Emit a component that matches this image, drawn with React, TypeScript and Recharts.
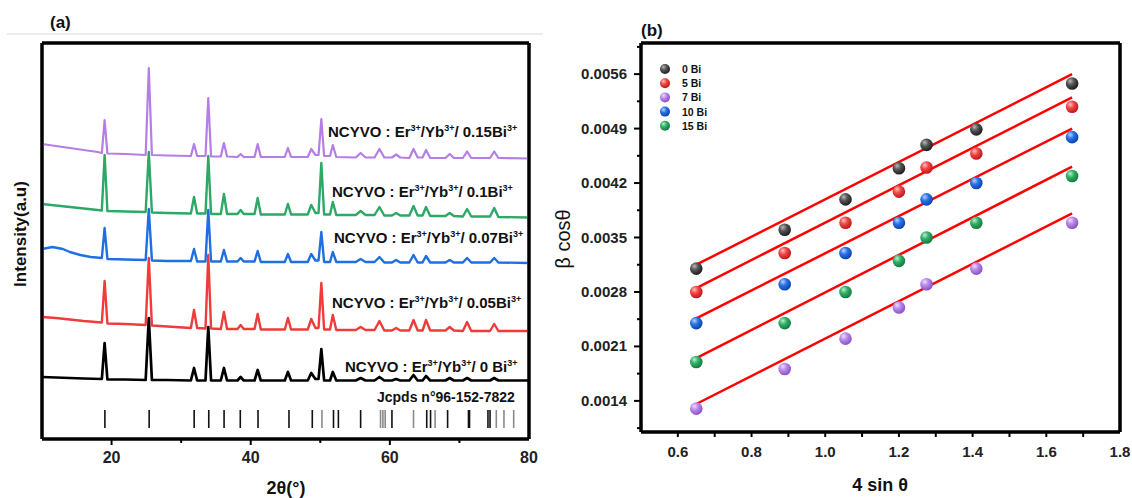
import React from "react";
import {
  ComposedChart,
  Line,
  Scatter,
  XAxis,
  YAxis,
  ReferenceLine,
  CartesianGrid,
  Legend,
} from "recharts";

const FONT = "'Liberation Sans', Arial, sans-serif";
const FRAME = { stroke: "#000", strokeWidth: 3 };

// ---- (a) XRD patterns: [2theta, intensity a.u.] ----
const XRD_TICKS = [10, 20, 30, 40, 50, 60, 70, 80];
const XRD_LABELED = [20, 40, 60, 80];
const XRD_X_DOMAIN = [10, 80];
const XRD_Y_DOMAIN = [0, 396];

const XRD_015BI: [number, number][] = [
  [10, 295], [12, 293], [14, 291], [16, 289], [18, 287], [18.6, 286], [19.0, 319], [19.4, 285.5],
  [22, 285], [24.9, 284], [25.35, 371], [25.8, 284], [28, 283.5], [31.4, 283], [31.85, 295], [32.3, 283],
  [33.5, 283], [33.9, 341], [34.3, 282.5], [35.7, 282.5], [36.15, 296], [36.6, 282.5], [38.1, 282], [38.55, 285],
  [39, 282], [40.55, 282], [41.0, 295], [41.45, 282], [44.9, 282], [45.35, 291], [45.8, 282], [48.2, 282],
  [48.7, 290], [49.3, 284], [49.75, 284], [50.15, 320], [50.55, 283], [51.4, 283], [51.8, 294], [52.3, 282],
  [55.1, 281.5], [55.8, 286], [56.5, 281.5], [57.8, 281.5], [58.5, 290], [59.2, 281.5], [60.3, 281.5], [60.9, 284.5],
  [61.5, 281.5], [62.8, 281], [63.4, 290], [64.0, 281.5], [64.7, 281.5], [65.2, 289], [65.8, 281], [68.0, 281],
  [68.6, 285], [69.2, 281], [70.5, 281], [71.1, 287.5], [71.7, 281], [74.4, 281], [75.0, 287.5], [75.6, 281], [80, 280.5],
];

const XRD_01BI: [number, number][] = [
  [10, 235], [12, 233.5], [14, 232], [16, 230.5], [18, 229], [18.6, 228.5], [19.0, 284], [19.4, 228],
  [22, 227.5], [24.9, 227], [25.35, 287], [25.8, 226.5], [28, 226], [31.4, 225.5], [31.85, 242], [32.3, 225.5],
  [33.5, 225.5], [33.9, 283], [34.3, 225], [35.7, 225], [36.15, 245], [36.6, 225], [38.1, 225], [38.55, 229],
  [39, 225], [40.55, 225], [41.0, 241], [41.45, 224.5], [44.9, 224.5], [45.35, 235], [45.8, 224.5], [48.2, 224.5],
  [48.7, 234], [49.3, 226], [49.75, 226], [50.15, 276], [50.55, 224.5], [51.4, 224.5], [51.8, 237], [52.3, 224],
  [55.1, 224], [55.8, 228], [56.5, 224], [57.8, 224], [58.5, 232], [59.2, 223.5], [60.3, 223.5], [60.9, 226],
  [61.5, 223.5], [62.8, 223.5], [63.4, 233], [64.0, 223.5], [64.7, 223.5], [65.2, 232], [65.8, 223], [68.0, 223],
  [68.6, 226], [69.2, 223], [70.5, 222.5], [71.1, 230], [71.7, 222.5], [74.4, 222.5], [75.0, 231], [75.6, 222], [80, 221.5],
];

const XRD_007BI: [number, number][] = [
  [10, 190], [11.5, 192], [13, 190], [14, 187], [15.5, 184], [17, 182], [18.6, 181], [19.0, 211], [19.4, 180],
  [22, 179.5], [24.9, 179], [25.35, 230], [25.8, 178.5], [28, 178], [31.4, 178], [31.85, 190], [32.3, 177.5],
  [33.5, 177.5], [33.9, 229], [34.3, 177.5], [35.7, 177.5], [36.15, 189], [36.6, 177.5], [38.1, 177.5], [38.55, 181],
  [39, 177.5], [40.55, 177.5], [41.0, 188], [41.45, 177], [44.9, 177], [45.35, 185], [45.8, 177], [48.2, 177],
  [48.7, 185], [49.3, 178.5], [49.75, 178.5], [50.15, 207], [50.55, 177], [51.4, 177], [51.8, 187], [52.3, 177],
  [55.1, 177], [55.8, 180], [56.5, 177], [57.8, 177], [58.5, 182], [59.2, 176.5], [60.3, 176.5], [60.9, 179],
  [61.5, 176.5], [62.8, 176.5], [63.4, 184], [64.0, 176.5], [64.7, 176.5], [65.2, 183], [65.8, 176.5], [68.0, 176.5],
  [68.6, 179], [69.2, 176.5], [70.5, 176.5], [71.1, 181], [71.7, 176.5], [74.4, 176.5], [75.0, 181], [75.6, 176.5], [80, 176],
];

const XRD_005BI: [number, number][] = [
  [10, 122], [12, 121], [14, 119.5], [16, 118], [18.6, 116.5], [19.0, 158], [19.4, 115.5],
  [22, 115], [24.9, 114], [25.35, 181], [25.8, 113.5], [28, 112.5], [31.4, 111], [31.85, 129], [32.3, 111],
  [33.5, 110.5], [33.9, 184], [34.3, 110.5], [35.7, 110], [36.15, 127], [36.6, 110], [38.1, 110], [38.55, 114],
  [39, 110], [40.55, 110], [41.0, 125], [41.45, 109.5], [44.9, 109.5], [45.35, 121], [45.8, 109.5], [48.2, 109.5],
  [48.7, 120], [49.3, 111], [49.75, 111], [50.15, 156], [50.55, 109.5], [51.4, 109.5], [51.8, 124], [52.3, 109],
  [55.1, 109], [55.8, 112], [56.5, 109], [57.8, 109], [58.5, 118], [59.2, 108.5], [60.3, 108.5], [60.9, 111],
  [61.5, 108.5], [62.8, 108.5], [63.4, 119], [64.0, 108.5], [64.7, 108.5], [65.2, 119], [65.8, 108.5], [68.0, 108.5],
  [68.6, 112], [69.2, 108.5], [70.5, 108], [71.1, 117], [71.7, 108], [74.4, 108], [75.0, 115], [75.6, 108], [80, 108],
];

const XRD_0BI: [number, number][] = [
  [10, 62], [12, 61.5], [14, 61], [16, 60.5], [18.6, 60], [19.0, 96], [19.4, 59.5],
  [22, 59.5], [24.9, 59], [25.35, 121], [25.8, 59], [28, 59], [31.4, 58.5], [31.85, 71], [32.3, 58.5],
  [33.5, 58.5], [33.9, 112], [34.3, 58.5], [35.7, 58.5], [36.15, 71], [36.6, 58.5], [38.1, 58.5], [38.55, 62],
  [39, 58.5], [40.55, 58.5], [41.0, 69], [41.45, 58.5], [44.9, 58.5], [45.35, 67], [45.8, 58.5], [48.2, 58.5],
  [48.7, 66], [49.3, 60], [49.75, 60], [50.15, 90], [50.55, 58.5], [51.4, 58.5], [51.8, 67], [52.3, 58.5],
  [55.1, 58.5], [55.8, 61], [56.5, 58.5], [57.8, 58.5], [58.5, 62], [59.2, 58.5], [60.3, 58.5], [60.9, 60],
  [61.5, 58.5], [62.8, 58.5], [63.4, 64], [64.0, 58.5], [64.7, 58.5], [65.2, 63], [65.8, 58.5], [68.0, 58.5],
  [68.6, 61], [69.2, 58.5], [70.5, 58.5], [71.1, 61], [71.7, 58.5], [74.4, 58.5], [75.0, 61], [75.6, 58.5], [80, 58.5],
];

// reference pattern sticks (Jcpds n°96-152-7822)
const JCPDS_DARK = [19.04, 25.4, 31.87, 33.97, 36.17, 38.5, 41.05, 45.5, 48.85, 51.9, 52.6, 55.8, 60.3, 65.3, 65.85, 68.3, 71.3, 71.45, 74.1, 74.4];
const JCPDS_GRAY = [50.24, 58.66, 59.0, 59.33, 63.4, 66.5, 75.3, 76.4, 77.8];
const STICK_BASE = 11;
const STICK_TOP = 29;

const XRD_SERIES = [
  { name: "0.15Bi", data: XRD_015BI, color: "#b47ee5", width: 2.2 },
  { name: "0.1Bi", data: XRD_01BI, color: "#2ea866", width: 2.4 },
  { name: "0.07Bi", data: XRD_007BI, color: "#1f6fe0", width: 2.4 },
  { name: "0.05Bi", data: XRD_005BI, color: "#f03b3b", width: 2.4 },
  { name: "0 Bi", data: XRD_0BI, color: "#000000", width: 2.7 },
];

const XRD_LABELS = [
  { amount: "0.15Bi", x: 328, y: 137 },
  { amount: "0.1Bi", x: 332, y: 197 },
  { amount: "0.07Bi", x: 334, y: 243 },
  { amount: "0.05Bi", x: 332, y: 308 },
  { amount: "0 Bi", x: 345, y: 372 },
];

// ---- (b) Williamson-Hall plot ----
const WH_X = [0.65, 0.89, 1.055, 1.2, 1.275, 1.41, 1.67];
const WH_0BI = [0.0031, 0.0036, 0.00399, 0.00439, 0.00469, 0.00489, 0.00548];
const WH_5BI = [0.0028, 0.0033, 0.00369, 0.00409, 0.0044, 0.00458, 0.00518];
const WH_7BI = [0.0013, 0.00181, 0.0022, 0.0026, 0.0029, 0.0031, 0.00369];
const WH_10BI = [0.0024, 0.0029, 0.0033, 0.00369, 0.00399, 0.0042, 0.00479];
const WH_15BI = [0.0019, 0.0024, 0.0028, 0.0032, 0.0035, 0.00369, 0.00429];

const FIT_X = [0.65, 1.67];
const FIT_0BI = [0.00315, 0.0056];
const FIT_5BI = [0.00285, 0.0053];
const FIT_7BI = [0.00136, 0.00381];
const FIT_10BI = [0.00246, 0.0049];
const FIT_15BI = [0.00195, 0.00441];

const WH_X_DOMAIN = [0.5, 1.8];
const WH_Y_DOMAIN = [0.001, 0.006];
const WH_X_TICKS = [0.5, 0.6, 0.7, 0.8, 0.9, 1.0, 1.1, 1.2, 1.3, 1.4, 1.5, 1.6, 1.7, 1.8];
const WH_X_LABELED = [0.6, 0.8, 1.0, 1.2, 1.4, 1.6, 1.8];
const WH_Y_TICKS = [0.00105, 0.0014, 0.00175, 0.0021, 0.00245, 0.0028, 0.00315, 0.0035, 0.00385, 0.0042, 0.00455, 0.0049, 0.00525, 0.0056, 0.00595];
const WH_Y_LABELED = [0.0014, 0.0021, 0.0028, 0.0035, 0.0042, 0.0049, 0.0056];

const WH_SERIES = [
  { name: "0 Bi", id: "sp0", ys: WH_0BI, fit: FIT_0BI, light: "#b8b8b8", mid: "#555555", dark: "#1e1e1e" },
  { name: "5 Bi", id: "sp5", ys: WH_5BI, fit: FIT_5BI, light: "#ffc0c0", mid: "#f04848", dark: "#c01818" },
  { name: "7 Bi", id: "sp7", ys: WH_7BI, fit: FIT_7BI, light: "#efdcff", mid: "#b98ae6", dark: "#8a52c8" },
  { name: "10 Bi", id: "sp10", ys: WH_10BI, fit: FIT_10BI, light: "#b8d4ff", mid: "#2a72e6", dark: "#0a44b0" },
  { name: "15 Bi", id: "sp15", ys: WH_15BI, fit: FIT_15BI, light: "#b8f0cf", mid: "#34b068", dark: "#137a40" },
];
const LEGEND_ORDER = ["0 Bi", "5 Bi", "7 Bi", "10 Bi", "15 Bi"];

const has = (list: number[], v: number) => list.some((t) => Math.abs(t - v) < 1e-9);

// plot box: grid lines only on the outer edges of the plotting area
function BoxGrid({ box }: { box: { top: number; left: number; width: number; height: number } }) {
  return (
    <CartesianGrid
      stroke="#000"
      strokeWidth={3}
      strokeDasharray="0"
      horizontalCoordinatesGenerator={(p: any) => {
        const o = p?.offset ?? box;
        return [o.top, o.top + o.height];
      }}
      verticalCoordinatesGenerator={(p: any) => {
        const o = p?.offset ?? box;
        return [o.left, o.left + o.width];
      }}
    />
  );
}

// top and right edges again, through the chart scales
function frameEdges(xd: number[], yd: number[]) {
  return [
    <ReferenceLine key="frame-top" segment={[{ x: xd[0], y: yd[1] }, { x: xd[1], y: yd[1] }]} ifOverflow="visible" stroke="#000" strokeWidth={3} />,
    <ReferenceLine key="frame-right" segment={[{ x: xd[1], y: yd[0] }, { x: xd[1], y: yd[1] }]} ifOverflow="visible" stroke="#000" strokeWidth={3} />,
  ];
}

function XrdTick(props: any) {
  const { x, y, payload } = props;
  const v = payload.value;
  const labeled = has(XRD_LABELED, v);
  const edge = v === 10 || v === 80;
  return (
    <g>
      {!edge && (
        <line x1={x} x2={x} y1={y} y2={y + (v % 20 === 0 ? 6 : 4)} stroke="#000" strokeWidth={2} />
      )}
      {labeled && (
        <text x={x} y={y + 24} textAnchor="middle" fontSize={16} fontWeight="bold" fill="#222" fontFamily={FONT}>
          {v}
        </text>
      )}
    </g>
  );
}

function WhXTick(props: any) {
  const { x, y, payload } = props;
  const v = payload.value;
  const labeled = has(WH_X_LABELED, v);
  return (
    <g>
      {v > 0.55 && v < 1.75 && <line x1={x} x2={x} y1={y} y2={y + 5} stroke="#000" strokeWidth={2} />}
      {labeled && (
        <text x={x} y={y + 25} textAnchor="middle" fontSize={15} fontWeight="bold" fill="#222" fontFamily={FONT}>
          {v.toFixed(1)}
        </text>
      )}
    </g>
  );
}

function WhYTick(props: any) {
  const { x, y, payload } = props;
  const v = payload.value;
  const labeled = has(WH_Y_LABELED, v);
  return (
    <g>
      <line x1={x} x2={x - (labeled ? 7 : 4)} y1={y} y2={y} stroke="#000" strokeWidth={2} />
      {labeled && (
        <text x={x - 14} y={y + 5} textAnchor="end" fontSize={15} fontWeight="bold" fill="#222" fontFamily={FONT}>
          {v.toFixed(4)}
        </text>
      )}
    </g>
  );
}

function Sphere({ cx, cy, id, r = 6.3 }: { cx: number; cy: number; id: string; r?: number }) {
  return <circle cx={cx} cy={cy} r={r} fill={`url(#${id})`} />;
}

function WhLegend() {
  return (
    <svg width={70} height={80} style={{ overflow: "visible" }}>
      {LEGEND_ORDER.map((name, i) => {
        const s = WH_SERIES.find((d) => d.name === name)!;
        const cy = 9 + i * 14.2;
        return (
          <g key={name}>
            <Sphere cx={10} cy={cy} id={s.id} r={5} />
            <text x={27} y={cy + 4} fontSize={10.5} fontWeight="bold" fill="#111" fontFamily={FONT}>
              {name}
            </text>
          </g>
        );
      })}
    </svg>
  );
}

function DopantLabel({ x, y, amount }: { x: number; y: number; amount: string }) {
  return (
    <text x={x} y={y} fontSize={15} fontWeight="bold" fill="#111" fontFamily={FONT}>
      NCYVO : Er
      <tspan dy={-6} fontSize={9}>3+</tspan>
      <tspan dy={6}>/Yb</tspan>
      <tspan dy={-6} fontSize={9}>3+</tspan>
      <tspan dy={6}>{"/ " + amount}</tspan>
      <tspan dy={-6} fontSize={9}>3+</tspan>
    </text>
  );
}

export default function App() {
  return (
    <div style={{ position: "fixed", left: 0, top: 0, width: 1132, height: 498, background: "#fff", overflow: "hidden" }}>
      <div style={{ position: "absolute", left: 0, top: 0 }}>
        <ComposedChart width={560} height={498} margin={{ top: 43, right: 31, bottom: 29, left: 41 }}>
          {BoxGrid({ box: { top: 43, left: 42, width: 487, height: 396 } })}
          <XAxis
            dataKey="t"
            type="number"
            domain={XRD_X_DOMAIN}
            ticks={XRD_TICKS}
            interval={0}
            tick={(p: any) => <XrdTick {...p} />}
            tickSize={0}
            tickMargin={0}
            tickLine={false}
            axisLine={FRAME}
            height={30}
            allowDataOverflow
          />
          <YAxis type="number" domain={XRD_Y_DOMAIN} tick={false} tickLine={false} axisLine={FRAME} width={1} allowDataOverflow />
          {JCPDS_DARK.map((t) => (
            <ReferenceLine key={`d${t}`} segment={[{ x: t, y: STICK_BASE }, { x: t, y: STICK_TOP }]} stroke="#111" strokeWidth={1.6} />
          ))}
          {JCPDS_GRAY.map((t) => (
            <ReferenceLine key={`g${t}`} segment={[{ x: t, y: STICK_BASE }, { x: t, y: STICK_TOP }]} stroke="#8a8a8a" strokeWidth={1.6} />
          ))}
          {XRD_SERIES.map((s) => (
            <Line
              key={s.name}
              data={s.data.map(([t, v]) => ({ t, v }))}
              dataKey="v"
              type="linear"
              stroke={s.color}
              strokeWidth={s.width}
              strokeLinejoin="round"
              dot={false}
              activeDot={false}
              isAnimationActive={false}
            />
          ))}
          {frameEdges(XRD_X_DOMAIN, XRD_Y_DOMAIN)}
        </ComposedChart>
      </div>

      <div style={{ position: "absolute", left: 560, top: 0 }}>
        <ComposedChart width={572} height={498} margin={{ top: 43, right: 12, bottom: 36, left: 21 }}>
          <defs>
            {WH_SERIES.map((s) => (
              <radialGradient key={s.id} id={s.id} cx="38%" cy="35%" r="65%" fx="35%" fy="30%">
                <stop offset="0%" stopColor={s.light} />
                <stop offset="45%" stopColor={s.mid} />
                <stop offset="100%" stopColor={s.dark} />
              </radialGradient>
            ))}
          </defs>
          {BoxGrid({ box: { top: 43, left: 81, width: 479, height: 389 } })}
          <XAxis
            dataKey="x"
            type="number"
            domain={WH_X_DOMAIN}
            ticks={WH_X_TICKS}
            interval={0}
            tick={(p: any) => <WhXTick {...p} />}
            tickSize={0}
            tickMargin={0}
            tickLine={false}
            axisLine={FRAME}
            height={30}
            allowDataOverflow
          />
          <YAxis
            dataKey="y"
            type="number"
            domain={WH_Y_DOMAIN}
            ticks={WH_Y_TICKS}
            interval={0}
            tick={(p: any) => <WhYTick {...p} />}
            tickSize={0}
            tickMargin={0}
            tickLine={false}
            axisLine={FRAME}
            width={60}
            allowDataOverflow
          />
          {WH_SERIES.map((s) => (
            <Scatter
              key={s.id}
              name={s.name}
              data={WH_X.map((x, i) => ({ x, y: s.ys[i] }))}
              dataKey="y"
              shape={(p: any) => <Sphere cx={p.cx} cy={p.cy} id={s.id} />}
              isAnimationActive={false}
            />
          ))}
          {WH_SERIES.map((s) => (
            <Line
              key={`fit-${s.id}`}
              data={FIT_X.map((x, i) => ({ x, y: s.fit[i] }))}
              dataKey="y"
              type="linear"
              stroke="#ff0000"
              strokeWidth={2.5}
              dot={false}
              activeDot={false}
              legendType="none"
              isAnimationActive={false}
            />
          ))}
          {frameEdges(WH_X_DOMAIN, WH_Y_DOMAIN)}
          <Legend
            layout="vertical"
            align="center"
            verticalAlign="middle"
            content={() => <WhLegend />}
            wrapperStyle={{ left: 95, top: 60, width: 70, height: 80 }}
          />
        </ComposedChart>
      </div>

      <svg
        width={1132}
        height={498}
        style={{ position: "absolute", left: 0, top: 0, pointerEvents: "none" }}
      >
        <line x1={7} x2={543} y1={34} y2={34} stroke="#e6e6e6" strokeWidth={1.5} />
        <text x={50} y={28} fontSize={17} fontWeight="bold" fill="#111" fontFamily={FONT}>(a)</text>
        <text x={641} y={36} fontSize={17} fontWeight="bold" fill="#111" fontFamily={FONT}>(b)</text>
        {XRD_LABELS.map((l) => (
          <DopantLabel key={l.amount} x={l.x} y={l.y} amount={l.amount} />
        ))}
        <text x={377} y={402} fontSize={14} fontWeight="bold" fill="#111" fontFamily={FONT}>
          Jcpds n°96-152-7822
        </text>
        <text
          transform="translate(20,234) rotate(-90)"
          textAnchor="middle"
          dominantBaseline="central"
          fontSize={17}
          fontWeight="bold"
          fill="#111"
          fontFamily={FONT}
        >
          Intensity(a.u)
        </text>
        <text x={286} y={494} textAnchor="middle" fontSize={18} fontWeight="bold" fill="#111" fontFamily={FONT}>
          2θ(°)
        </text>
        <text
          transform="translate(563,239) rotate(-90)"
          textAnchor="middle"
          dominantBaseline="central"
          fontSize={20}
          fill="#111"
          fontFamily={FONT}
        >
          β cosθ
        </text>
        <text x={880} y={491} textAnchor="middle" fontSize={18} fontWeight="bold" fill="#111" fontFamily={FONT}>
          4 sin θ
        </text>
      </svg>
    </div>
  );
}
